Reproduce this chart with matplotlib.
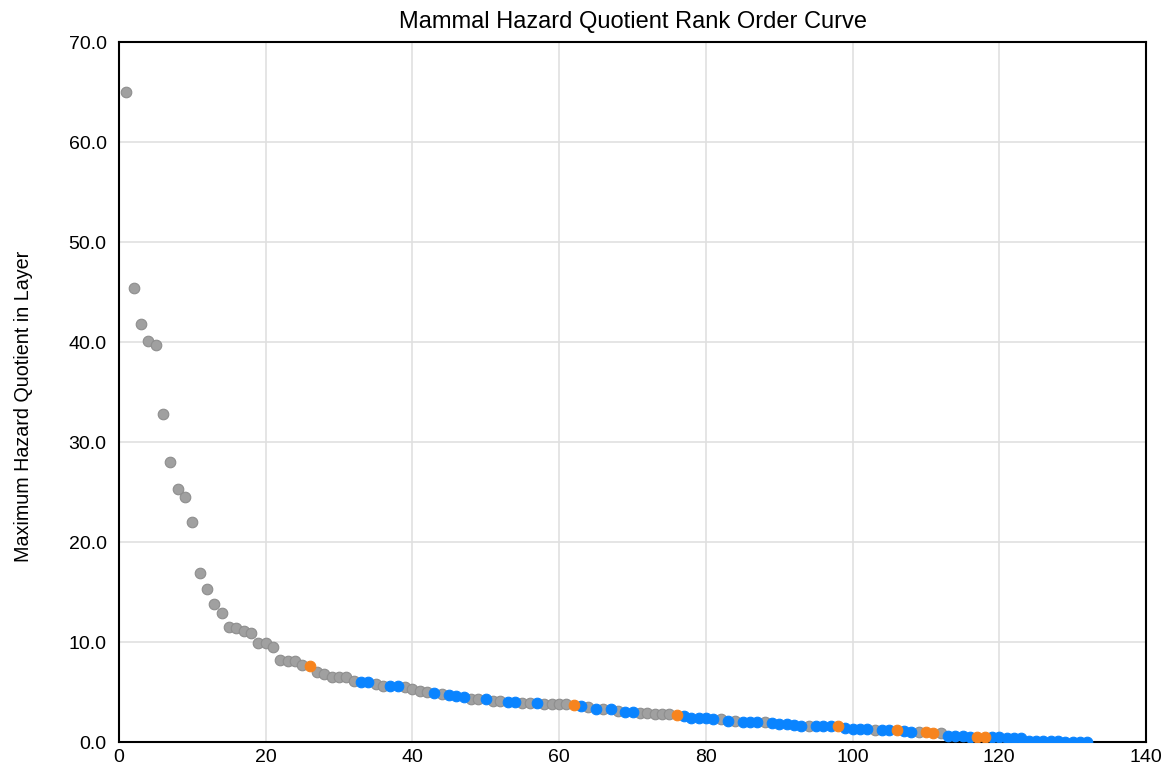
import matplotlib.pyplot as plt
import numpy as np

plt.rcParams["font.family"] = ["Liberation Sans", "DejaVu Sans"]

# maximum hazard quotient, in rank order (rank 1 = highest)
hq_values = [
    65.0, 45.4, 41.8, 40.1, 39.7, 32.8, 28.0, 25.3, 24.5, 22.0,
    16.9, 15.3, 13.8, 12.9, 11.5, 11.4, 11.1, 10.9, 9.9, 9.9,
    9.5, 8.2, 8.1, 8.1, 7.7, 7.6, 7.0, 6.8, 6.5, 6.5,
    6.5, 6.1, 6.0, 6.0, 5.8, 5.6, 5.6, 5.6, 5.5, 5.3,
    5.1, 5.0, 4.9, 4.8, 4.7, 4.6, 4.5, 4.3, 4.3, 4.3,
    4.1, 4.1, 4.0, 4.0, 3.9, 3.9, 3.9, 3.8, 3.8, 3.8,
    3.8, 3.7, 3.6, 3.5, 3.3, 3.3, 3.3, 3.1, 3.0, 3.0,
    2.9, 2.9, 2.8, 2.8, 2.8, 2.7, 2.6, 2.4, 2.4, 2.4,
    2.3, 2.3, 2.1, 2.1, 2.0, 2.0, 2.0, 2.0, 1.9, 1.8,
    1.8, 1.7, 1.6, 1.6, 1.6, 1.6, 1.6, 1.6, 1.4, 1.3,
    1.3, 1.3, 1.2, 1.2, 1.2, 1.2, 1.1, 1.0, 1.0, 1.0,
    0.9, 0.9, 0.6, 0.6, 0.6, 0.5, 0.5, 0.5, 0.5, 0.5,
    0.4, 0.4, 0.4, 0.1, 0.1, 0.1, 0.1, 0.1, 0.05, 0.05,
    0.02, 0.0,
]

# group of each point: G = gray, B = blue, O = orange
hq_groups = (
    "GGGGGGGGGG" "GGGGGGGGGG" "GGGGGOGGGG"
    "GGBBGGBBGG" "GGBGBBBGGB" "GGBBGGBGGG"
    "GOBGBGBGBB" "GGGGGOBBBB" "BGBGBBBGBB"
    "BBBGBBBOBB" "BBGBBOBBGO" "OGBBBBOOBB"
    "BBBBBBBBBB" "BB"
)

group_colors = {"G": "#a0a0a0", "B": "#0a84ff", "O": "#f7841e"}
group_edges = {"G": "#8e8e8e", "B": "#0a84ff", "O": "#f7841e"}

ranks = np.arange(1, len(hq_values) + 1)
values = np.array(hq_values)
groups = np.array(list(hq_groups))

fig = plt.figure(figsize=(11.76, 7.71), dpi=100)
ax = fig.add_axes([0.1012, 0.0376, 0.8733, 0.9079])

for g in ["G", "B", "O"]:
    m = groups == g
    ax.scatter(ranks[m], values[m], s=58, color=group_colors[g],
               edgecolors=group_edges[g], linewidths=0.8, zorder=3)

ax.set_xlim(0, 140)
ax.set_ylim(0, 70)
ax.set_xticks(np.arange(0, 141, 20))
ax.set_yticks(np.arange(0, 71, 10))
ax.set_yticklabels([f"{v:.1f}" for v in np.arange(0, 71, 10)])
ax.grid(True, color="#e0e0e0", linewidth=1.2)
ax.set_axisbelow(True)
ax.tick_params(length=0, labelsize=14)
ax.tick_params(axis="x", pad=5)
ax.tick_params(axis="y", pad=9)
for sp in ax.spines.values():
    sp.set_linewidth(1.5)
    sp.set_color("black")

ax.set_title("Mammal Hazard Quotient Rank Order Curve", fontsize=17, pad=10)
ax.set_ylabel("Maximum Hazard Quotient in Layer", fontsize=14.2)
ax.yaxis.set_label_coords(-0.0837, 0.48)

fig.savefig("out.png", dpi=100)
